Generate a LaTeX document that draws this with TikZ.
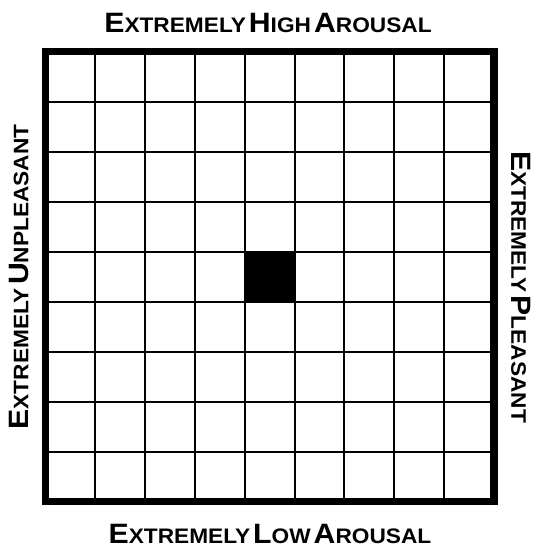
\documentclass[tikz,border=0pt]{standalone}
\usepackage{fontspec}
\setmainfont{Liberation Sans}
\newcommand{\capword}[2]{{\fontsize{28}{30}\selectfont #1}{\fontsize{21}{24}\selectfont #2}}
\newcommand{\widecaps}[1]{\scalebox{1.08}[1]{#1}}

\begin{document}
\begin{tikzpicture}[
    x=1pt, y=-1pt,
    gridline/.style={draw=black, line width=2pt},
    frame/.style={draw=black, line width=7.5pt},
    label/.style={font=\bfseries, inner sep=0pt, anchor=center}
  ]
    \useasboundingbox (0,0) rectangle (536,550);

    % grid of 9 x 9 cells
    \fill[black] (244.8,253.3) rectangle (294.6,303.3);
    \foreach \i in {1,...,8} {
      \draw[gridline] (45.5+\i*49.8,51.5) -- (45.5+\i*49.8,501.5);
      \draw[gridline] (45.5,51.5+\i*50) -- (494,51.5+\i*50);
    }
    \draw[frame] (45.5,51.5) rectangle (494,501.5);

    \node[label] (high)   at (268,23)  {\widecaps{\capword{E}{XTREMELY} \capword{H}{IGH} \capword{A}{ROUSAL}}};
    \node[label] (low)    at (270,534) {\widecaps{\capword{E}{XTREMELY} \capword{L}{OW} \capword{A}{ROUSAL}}};
    \node[label, rotate=90]  (unpl) at (19,277)  {\widecaps{\capword{E}{XTREMELY} \capword{U}{NPLEASANT}}};
    \node[label, rotate=-90] (pl)   at (521,287) {\widecaps{\capword{E}{XTREMELY} \capword{P}{LEASANT}}};
  \end{tikzpicture}
\end{document}
